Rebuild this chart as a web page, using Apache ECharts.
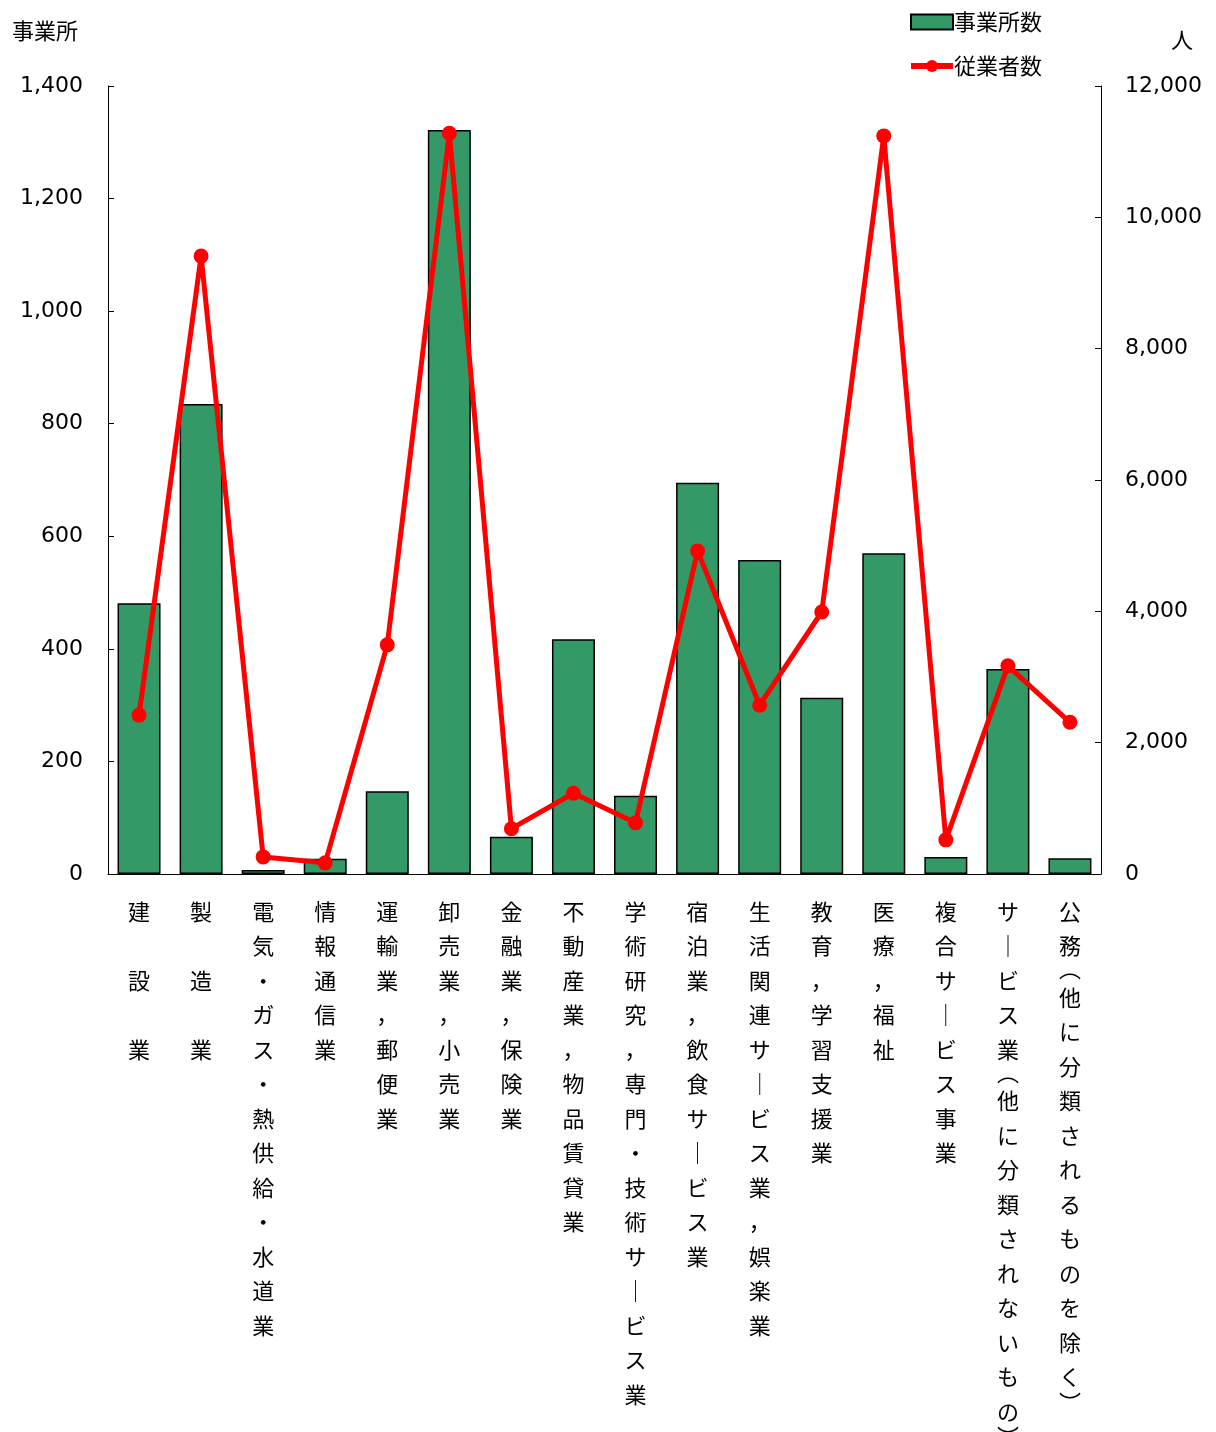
<!DOCTYPE html>
<html><head><meta charset="utf-8">
<script src="https://cdn.jsdelivr.net/npm/echarts@6/dist/echarts.min.js"></script>
<style>html,body{margin:0;padding:0;background:#fff}#c{width:1216px;height:1432px}</style>
</head><body><div id="c"></div>
<script>
const categories = ['建設業','製造業','電気・ガス・熱供給・水道業','情報通信業','運輸業，郵便業','卸売業，小売業','金融業，保険業','不動産業，物品賃貸業','学術研究，専門・技術サービス業','宿泊業，飲食サービス業','生活関連サービス業，娯楽業','教育，学習支援業','医療，福祉','複合サービス事業','サービス業（他に分類されないもの）','公務（他に分類されるものを除く）'];
const establishments = [481, 835, 7, 27, 147, 1322, 66, 417, 139, 695, 558, 313, 570, 30, 364, 28];
const employees = [2420, 9410, 260, 170, 3490, 11280, 690, 1230, 780, 4920, 2570, 3990, 11240, 520, 3170, 2310];
const leftTicks = [0, 1400, 200];
const rightTicks = [0, 12000, 2000];

const jp = '"Noto Sans CJK JP", "Noto Sans", sans-serif';
const num = '"DejaVu Sans", Verdana, sans-serif';
function vert(s) {
  const chars = Array.from(s).map(c => {
    if (c === '（') return '{p|︵}';
    if (c === '）') return '{q|︶}';
    if (c === 'ー') return '｜';
    return c;
  });
  if (chars.length === 3) return chars.join('\n\n');
  return chars.join('\n');
}
const chart = echarts.init(document.getElementById('c'));
chart.setOption({
  animation: false,
  grid: {left: 108, right: 115, top: 86, bottom: 558, containLabel: false, outerBoundsMode: 'none'},
  legend: {
    orient: 'vertical', left: 903, top: 6, itemGap: 22, itemWidth: 42, itemHeight: 15,
    textStyle: {fontFamily: jp, fontSize: 22, color: '#000', padding: [0,0,0,-4]},
    data: [{name: '事業所数', icon: 'rect'},
           {name: '従業者数', lineStyle: {width: 6, color: '#ff0000'}, itemStyle: {color: '#ff0000'}}]
  },
  xAxis: {
    type: 'category', data: categories,
    axisLine: {lineStyle: {color: '#000', width: 1}},
    axisTick: {inside: true, length: 6, lineStyle: {color: '#000'}},
    axisLabel: {interval: 0, margin: 20, fontFamily: jp, fontSize: 22, lineHeight: 34.5, color: '#000',
      verticalAlign: 'top', formatter: v => vert(v),
      rich: {
        p: {fontFamily: jp, fontSize: 22, lineHeight: 17, color: '#000', verticalAlign: 'bottom'},
        q: {fontFamily: jp, fontSize: 22, lineHeight: 17, color: '#000'}
      }}
  },
  yAxis: [{
    type: 'value', min: leftTicks[0], max: leftTicks[1], interval: leftTicks[2],
    name: '事業所', nameLocation: 'end', nameGap: 55,
    nameTextStyle: {fontFamily: jp, fontSize: 22, color: '#000', align: 'right', verticalAlign: 'middle', padding: [0, 30, 0, 0]},
    axisLine: {show: true, lineStyle: {color: '#000', width: 1}},
    axisTick: {show: true, inside: true, length: 6, lineStyle: {color: '#000'}},
    splitLine: {show: false},
    axisLabel: {margin: 25, fontFamily: num, fontSize: 22, color: '#000', formatter: v => v.toLocaleString('en-US')}
  }, {
    type: 'value', min: rightTicks[0], max: rightTicks[1], interval: rightTicks[2], position: 'right',
    name: '人', nameLocation: 'end', nameGap: 46,
    nameTextStyle: {fontFamily: jp, fontSize: 22, color: '#000', align: 'left', verticalAlign: 'middle', padding: [0, 0, 0, 70]},
    axisLine: {show: true, lineStyle: {color: '#000', width: 1}},
    axisTick: {show: true, inside: true, length: 6, lineStyle: {color: '#000'}},
    splitLine: {show: false},
    axisLabel: {margin: 24, fontFamily: num, fontSize: 22, color: '#000', formatter: v => v.toLocaleString('en-US')}
  }],
  series: [{
    name: '事業所数', type: 'bar', data: establishments, yAxisIndex: 0, barWidth: 43,
    itemStyle: {color: '#339966', borderColor: '#000', borderWidth: 1.5}
  }, {
    name: '従業者数', type: 'line', data: employees, yAxisIndex: 1,
    lineStyle: {color: '#ff0000', width: 5}, itemStyle: {color: '#ff0000'},
    symbol: 'circle', symbolSize: 15
  }]
});
</script></body></html>
